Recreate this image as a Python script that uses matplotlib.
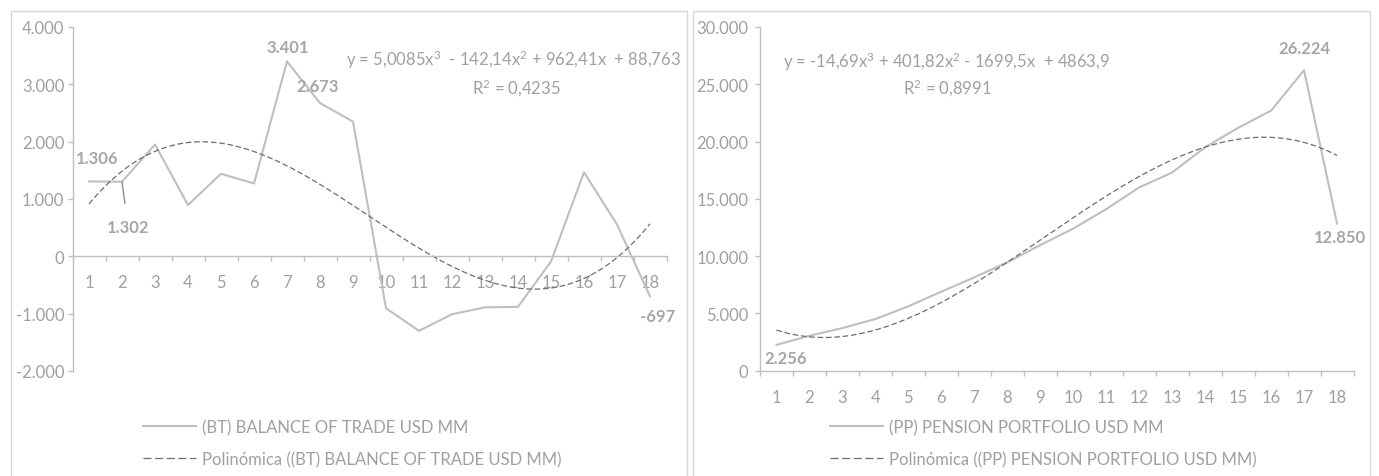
import numpy as np
import matplotlib
matplotlib.use("Agg")
import matplotlib.pyplot as plt
from matplotlib.lines import Line2D
from matplotlib.patches import Rectangle
from matplotlib.ticker import FuncFormatter, MultipleLocator, FixedLocator

# data
periods = list(range(1, 19))
bt_values = [1306, 1302, 1950, 895, 1440, 1270, 3401, 2673, 2350,
             -905, -1300, -1010, -890, -880, -90, 1465, 555, -697]
pp_values = [2256, 3050, 3720, 4510, 5620, 6900, 8150, 9460, 10970,
             12400, 14100, 16000, 17300, 19500, 21200, 22700, 26224, 12850]

# cubic trendline coefficients as printed on the charts (highest power first)
bt_trend_coef = [5.0085, -142.14, 962.41, 88.763]
pp_trend_coef = [-14.69, 401.82, -1699.5, 4863.9]

bt_equation = "y = 5,0085x$^3$  - 142,14x$^2$ + 962,41x  + 88,763"
bt_r2 = "R$^2$ = 0,4235"
pp_equation = "y = -14,69x$^3$ + 401,82x$^2$ - 1699,5x  + 4863,9"
pp_r2 = "R$^2$ = 0,8991"

bt_label = "(BT) BALANCE OF TRADE USD MM"
bt_trend_label = "Polinómica ((BT) BALANCE OF TRADE USD MM)"
pp_label = "(PP) PENSION PORTFOLIO USD MM"
pp_trend_label = "Polinómica ((PP) PENSION PORTFOLIO USD MM)"

plt.rcParams["font.family"] = ["Lato", "DejaVu Sans"]
plt.rcParams["mathtext.fontset"] = "custom"
plt.rcParams["mathtext.rm"] = "Lato"
plt.rcParams["mathtext.it"] = "Lato"
plt.rcParams["mathtext.default"] = "regular"

W, H = 1379, 477
LINE = "#BFBFBF"
TREND = "#6E6E6E"
AXIS = "#BFBFBF"
TEXT = "#A0A0A0"
LABEL = "#A6A6A6"
BORDER = "#D9D9D9"


def px(x, y):
    # pixel coords (from top-left) to figure fraction
    return x / W, 1 - y / H


def thousands(v, pos=None):
    return f"{v:,.0f}".replace(",", ".")


def setup_axes(ax, ymin, ymax, step, ylab_pad):
    ax.set_xlim(0.5, 18.5)
    ax.set_ylim(ymin, ymax)
    for s in ["top", "right"]:
        ax.spines[s].set_visible(False)
    ax.spines["left"].set_color(AXIS)
    ax.spines["bottom"].set_color(AXIS)
    ax.spines["left"].set_linewidth(1.0)
    ax.spines["bottom"].set_linewidth(1.0)
    ax.spines["bottom"].set_position(("data", 0))
    ax.yaxis.set_major_locator(MultipleLocator(step))
    ax.yaxis.set_major_formatter(FuncFormatter(thousands))
    ax.xaxis.set_major_locator(FixedLocator(periods))
    ax.xaxis.set_minor_locator(FixedLocator(np.arange(0.5, 19, 1)))
    ax.tick_params(axis="x", which="major", length=0, pad=13, labelsize=12,
                   labelcolor=TEXT)
    ax.tick_params(axis="x", which="minor", length=3.5, width=1.0, color=AXIS,
                   direction="out")
    ax.tick_params(axis="y", length=3.5, width=1.0, color=AXIS, pad=ylab_pad,
                   labelsize=12, labelcolor=TEXT)
    ax.set_facecolor("none")


def trend(coef, xs):
    return np.polyval(coef, xs)


fig = plt.figure(figsize=(W / 100, H / 100), dpi=100)

# chart frames
for x0, x1 in [(10.5, 687), (693, 1370)]:
    fx0, fy0 = px(x0, 600)
    fx1, fy1 = px(x1, 12)
    fig.patches.append(Rectangle((fx0, fy0), fx1 - fx0, fy1 - fy0,
                                 transform=fig.transFigure, fill=False,
                                 edgecolor=BORDER, linewidth=1.0))

xs = np.linspace(1, 18, 300)

lab_kw = dict(textcoords="offset pixels", ha="center", va="center",
              fontsize=12, fontweight="bold", color=LABEL)
eq_kw = dict(ha="center", va="center", fontsize=12, color=TEXT)
leg_kw = dict(loc="upper left", frameon=False, fontsize=12, handlelength=3.2,
              handletextpad=0.35, labelspacing=0.95, borderpad=0,
              borderaxespad=0, labelcolor=TEXT)

# ---- left chart: balance of trade
l0, t0 = px(72.5, 28)
l1, b1 = px(666.5, 372)
ax1 = fig.add_axes([l0, b1, l1 - l0, t0 - b1])
setup_axes(ax1, -2000, 4000, 1000, 2.5)
ax1.plot(periods, bt_values, color=LINE, lw=1.5)
ax1.plot(xs, trend(bt_trend_coef, xs), color=TREND, lw=0.9, dashes=(4.5, 2.2))

ax1.annotate(thousands(bt_values[0]), (1, bt_values[0]), xytext=(8, 23), **lab_kw)
ax1.annotate(thousands(bt_values[1]), (2, bt_values[1]), xytext=(6, -45),
             arrowprops=dict(arrowstyle="-", color="#8C8C8C", lw=1.0,
                             shrinkA=9, shrinkB=0), **lab_kw)
ax1.annotate(thousands(bt_values[6]), (7, bt_values[6]), xytext=(1, 14), **lab_kw)
ax1.annotate(thousands(bt_values[7]), (8, bt_values[7]), xytext=(-2, 17), **lab_kw)
ax1.annotate(thousands(bt_values[17]), (18, bt_values[17]), xytext=(8, -20), **lab_kw)

fig.text(513 / W, px(0, 60)[1], bt_equation, **eq_kw)
fig.text(516 / W, px(0, 88)[1], bt_r2, **eq_kw)

h_line = Line2D([], [], color=LINE, lw=1.5)
h_trend = Line2D([], [], color=TREND, lw=0.9, dashes=(6.5, 2.8))
ax1.legend([h_line, h_trend], [bt_label, bt_trend_label],
           bbox_to_anchor=px(143, 420), bbox_transform=fig.transFigure, **leg_kw)

# ---- right chart: pension portfolio
l0, t0 = px(760, 28)
l1, b1 = px(1353.5, 371.7)
ax2 = fig.add_axes([l0, b1, l1 - l0, t0 - b1])
setup_axes(ax2, 0, 30000, 5000, 5)
ax2.plot(periods, pp_values, color=LINE, lw=1.5)
ax2.plot(xs, trend(pp_trend_coef, xs), color=TREND, lw=0.9, dashes=(4.5, 2.2))

ax2.annotate(thousands(pp_values[0]), (1, pp_values[0]), xytext=(9, -13), **lab_kw)
ax2.annotate(thousands(pp_values[16]), (17, pp_values[16]), xytext=(0, 22), **lab_kw)
ax2.annotate(thousands(pp_values[17]), (18, pp_values[17]), xytext=(3, -14), **lab_kw)

fig.text(946 / W, px(0, 62)[1], pp_equation, **eq_kw)
fig.text(947 / W, px(0, 88)[1], pp_r2, **eq_kw)

ax2.legend([h_line, h_trend], [pp_label, pp_trend_label],
           bbox_to_anchor=px(830, 420), bbox_transform=fig.transFigure, **leg_kw)

fig.savefig("out.png", dpi=100, facecolor="white")
